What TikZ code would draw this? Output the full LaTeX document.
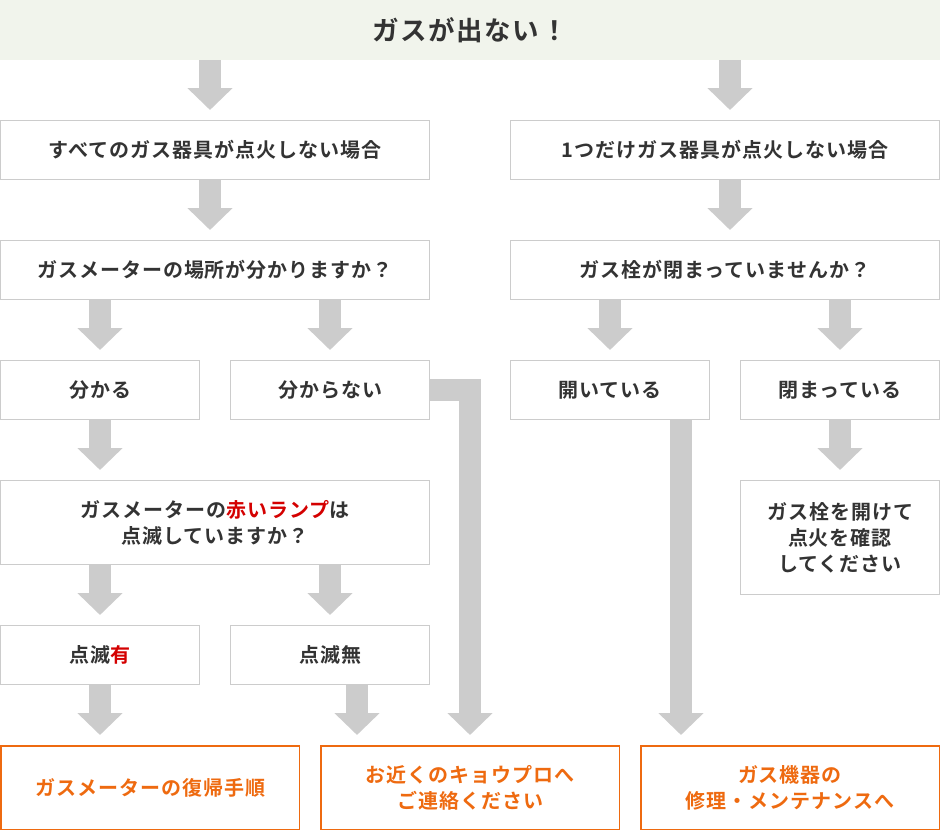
\documentclass[tikz,border=0pt]{standalone}
\usepackage{fontspec}
\setmainfont{Noto Sans CJK JP}[BoldFont={Noto Sans CJK JP Bold}]
\usetikzlibrary{arrows.meta}
\definecolor{txt}{HTML}{333333}
\definecolor{bd}{HTML}{CCCCCC}
\definecolor{arr}{HTML}{CCCCCC}
\definecolor{hdr}{HTML}{F1F4EC}
\definecolor{org}{HTML}{EE6A10}
\definecolor{rd}{HTML}{D40000}
\newcommand{\boxfont}{\bfseries\fontsize{20}{26}\selectfont\addfontfeature{LetterSpace=5}}
\tikzset{
  box/.style={draw=bd, line width=1pt, anchor=north west, inner sep=0pt, align=center, text=txt, font=\boxfont},
  endbox/.style={box, draw=org, line width=1.5pt, text=org},
  garrow/.style={draw=arr, line width=22pt, -{Triangle[width=44pt,length=22pt]}, line join=miter, line cap=butt, shorten >=10pt},
}
\begin{document}
\begin{tikzpicture}[x=1pt,y=-1pt]
\useasboundingbox (0,0) rectangle (940,830);
% header
\node[fill=hdr, anchor=north west, minimum width=940pt, minimum height=60pt, inner sep=0pt, outer sep=0pt, text=txt,
  font=\bfseries\fontsize{26.5}{30}\selectfont\addfontfeature{LetterSpace=6}] (top) at (0,0) {ガスが出ない！};
% row 1
\node[box, minimum width=429pt, minimum height=59pt] (all) at (0,120) {すべてのガス器具が点火しない場合};
\node[box, minimum width=429pt, minimum height=59pt] (one) at (510,120) {1つだけガス器具が点火しない場合};
% row 2
\node[box, minimum width=429pt, minimum height=59pt] (where) at (0,240) {ガスメーターの場所が分かりますか？};
\node[box, minimum width=429pt, minimum height=59pt] (valve) at (510,240) {ガス栓が閉まっていませんか？};
% row 3
\node[box, minimum width=199pt, minimum height=59pt] (know) at (0,360) {分かる};
\node[box, minimum width=199pt, minimum height=59pt] (dunno) at (230,360) {分からない};
\node[box, minimum width=199pt, minimum height=59pt] (open) at (510,360) {開いている};
\node[box, minimum width=199pt, minimum height=59pt] (closed) at (740,360) {閉まっている};
% row 4
\node[box, minimum width=429pt, minimum height=84pt] (lamp) at (0,480) {ガスメーターの\textcolor{rd}{赤いランプ}は\\点滅していますか？};
\node[box, minimum width=199pt, minimum height=114pt] (openit) at (740,480) {ガス栓を開けて\\点火を確認\\してください};
% row 5
\node[box, minimum width=199pt, minimum height=59pt] (blink) at (0,625) {点滅\textcolor{rd}{有}};
\node[box, minimum width=199pt, minimum height=59pt] (noblink) at (230,625) {点滅無};
% row 6
\node[endbox, minimum width=298.5pt, minimum height=83.5pt] (reset) at (0,745) {ガスメーターの復帰手順};
\node[endbox, minimum width=298.5pt, minimum height=83.5pt] (call) at (320,745) {お近くのキョウプロへ\\ご連絡ください};
\node[endbox, minimum width=298.5pt, minimum height=83.5pt] (repair) at (640,745) {ガス機器の\\修理・メンテナンスへ};
% column coordinates
\coordinate (cL) at (210,0);
\coordinate (cR) at (730,0);
\coordinate (c1) at (100,0);
\coordinate (c2) at (330,0);
\coordinate (c3) at (610,0);
\coordinate (c4) at (840,0);
\coordinate (c5) at (357,0);
\coordinate (c6) at (470,0);
\coordinate (c7) at (681,0);
% arrows
\draw[garrow] (top.south -| cL) -- (all.north -| cL);
\draw[garrow] (top.south -| cR) -- (one.north -| cR);
\draw[garrow] (all.south -| cL) -- (where.north -| cL);
\draw[garrow] (one.south -| cR) -- (valve.north -| cR);
\draw[garrow] (where.south -| c1) -- (know.north -| c1);
\draw[garrow] (where.south -| c2) -- (dunno.north -| c2);
\draw[garrow] (valve.south -| c3) -- (open.north -| c3);
\draw[garrow] (valve.south -| c4) -- (closed.north -| c4);
\draw[garrow] (know.south -| c1) -- (lamp.north -| c1);
\draw[garrow] (closed.south -| c4) -- (openit.north -| c4);
\draw[garrow] (lamp.south -| c1) -- (blink.north -| c1);
\draw[garrow] (lamp.south -| c2) -- (noblink.north -| c2);
\draw[garrow] (blink.south -| c1) -- (reset.north -| c1);
\draw[garrow] (noblink.south -| c5) -- (call.north -| c5);
\draw[garrow] (dunno.east) -- (dunno.east -| c6) -- (call.north -| c6);
\draw[garrow] (open.south -| c7) -- (repair.north -| c7);
\end{tikzpicture}
\end{document}
